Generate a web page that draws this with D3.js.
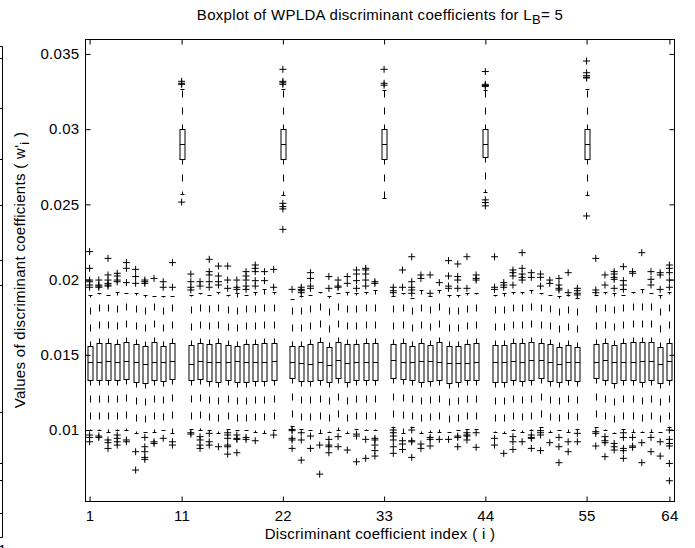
<!DOCTYPE html>
<html><head><meta charset="utf-8">
<script src="https://cdn.jsdelivr.net/npm/d3@7"></script>
<style>
body{margin:0;background:#fff}
svg{display:block}
text{font-family:"Liberation Sans",Arial,Helvetica,sans-serif;fill:#000;font-size:15px;letter-spacing:0.3px}
</style>
</head><body><svg id="chart" width="695" height="548"></svg>
<script>
const categories = [1,2,3,4,5,6,7,8,9,10,11,12,13,14,15,16,17,18,19,20,21,22,23,24,25,26,27,28,29,30,31,32,
  33,34,35,36,37,38,39,40,41,42,43,44,45,46,47,48,49,50,51,52,53,54,55,56,57,58,59,60,61,62,63,64];

const q3 = [0.01561,0.01576,0.01581,0.01572,0.01583,0.01574,0.01556,0.01587,0.01561,0.01576,
  0.0300,0.01565,0.01581,0.01572,0.01576,0.01565,0.01561,0.01572,0.01572,0.01581,
  0.01576,0.0300,0.01561,0.01561,0.01572,0.01587,0.01554,0.01583,0.01572,0.01572,
  0.01576,0.01576,0.0300,0.0157,0.01576,0.01561,0.01576,0.01565,0.01583,0.01561,
  0.01561,0.01572,0.01576,0.0300,0.01565,0.01565,0.01576,0.01581,0.01583,0.01576,
  0.01572,0.01554,0.01565,0.01554,0.0300,0.01572,0.01576,0.01565,0.01576,0.01583,
  0.01587,0.01587,0.0155,0.01576];

const median = [0.0145,0.0145,0.01457,0.0145,0.01461,0.0145,0.01441,0.0145,0.0145,0.01457,
  0.0290,0.01441,0.01457,0.0145,0.01454,0.0145,0.01457,0.0145,0.0145,0.0145,
  0.01461,0.0290,0.01454,0.01445,0.01441,0.0145,0.01434,0.01465,0.01448,0.01454,
  0.01454,0.01454,0.0290,0.01465,0.0145,0.01452,0.01459,0.01459,0.0145,0.01443,
  0.01448,0.01445,0.01454,0.0290,0.0145,0.0145,0.01457,0.0145,0.01463,0.01463,
  0.0145,0.01439,0.0145,0.0145,0.0290,0.01454,0.01463,0.0145,0.01454,0.01454,
  0.01461,0.01457,0.01437,0.01457];

const q1 = [0.0133,0.01332,0.01332,0.01332,0.01339,0.01319,0.01315,0.0133,0.01326,0.01341,
  0.0280,0.01332,0.01339,0.01328,0.01321,0.01332,0.01321,0.01321,0.01326,0.01326,
  0.01332,0.0280,0.01344,0.01326,0.01326,0.01332,0.01317,0.01344,0.01319,0.01332,
  0.01332,0.01332,0.0280,0.01344,0.01339,0.01332,0.01321,0.01328,0.01332,0.01315,
  0.01317,0.01332,0.01332,0.02815,0.01321,0.01321,0.01332,0.01328,0.01332,0.01344,
  0.01328,0.01321,0.01332,0.01328,0.0280,0.01344,0.01332,0.01315,0.01332,0.01332,
  0.01321,0.01332,0.0131,0.01332];

const whiskerHigh = [0.0190,0.0191,0.0190,0.0192,0.0191,0.0191,0.0190,0.0189,0.0189,0.0189,
  0.0327,0.0190,0.0191,0.0190,0.0192,0.0190,0.0191,0.0190,0.0192,0.0194,
  0.0192,0.0327,0.0187,0.0189,0.0190,0.0192,0.0189,0.0191,0.0192,0.0191,
  0.0192,0.0193,0.0326,0.0189,0.0191,0.0188,0.0193,0.0189,0.0193,0.0190,
  0.0190,0.0191,0.0191,0.0326,0.0190,0.0191,0.0192,0.0192,0.0193,0.0191,
  0.0190,0.0189,0.0190,0.0188,0.0327,0.0190,0.0192,0.0191,0.0190,0.0192,
  0.0194,0.0191,0.0190,0.0192];

const whiskerLow = [0.0100,0.0100,0.0099,0.0100,0.0100,0.0098,0.0099,0.0099,0.0100,0.0098,
  0.0257,0.0101,0.0100,0.0100,0.0098,0.0101,0.0100,0.0100,0.0099,0.0098,
  0.0100,0.0256,0.0103,0.0101,0.0100,0.0098,0.0099,0.0100,0.0098,0.0101,
  0.0100,0.0100,0.0254,0.0102,0.0098,0.0102,0.0098,0.0099,0.0099,0.0099,
  0.0100,0.0101,0.0101,0.0258,0.0099,0.0098,0.0100,0.0099,0.0100,0.0102,
  0.0099,0.0100,0.0099,0.0101,0.0256,0.0102,0.0100,0.0098,0.0101,0.0099,
  0.0099,0.0099,0.0099,0.0102];

const outliers = [
  [0.02186,0.02075,0.01997,0.01986,0.01964,0.01949, 0.00967,0.00951,0.00922],
  [0.01997,0.01964,0.01957,0.01949, 0.0096,0.00951],
  [0.02141,0.02031,0.01997,0.01975,0.01964,0.01957, 0.00934,0.00916,0.00878],
  [0.02042,0.02024,0.01997,0.01986, 0.00967,0.00945,0.00922,0.009],
  [0.02113,0.02075,0.0198, 0.00934,0.00922],
  [0.02068,0.0202,0.01975, 0.00856,0.00734],
  [0.01997,0.01986,0.01975, 0.00951,0.00889,0.00856,0.00818,0.00805],
  [0.02008, 0.00922,0.00911],
  [0.01986,0.01949, 0.00945],
  [0.02113,0.01949, 0.00922,0.009],
  [0.03318,0.03305,0.03298, 0.02515],
  [0.02037,0.01986,0.01949,0.01931, 0.00982,0.00973],
  [0.01986,0.01957, 0.00956,0.00934,0.009,0.00878],
  [0.02135,0.02053,0.02031,0.01986,0.01949, 0.00978,0.00922,0.009],
  [0.0209,0.02024,0.01986,0.01964, 0.00889],
  [0.0209,0.01997,0.01942, 0.00982,0.00967,0.00945,0.009,0.00889,0.0084],
  [0.01997,0.01949,0.01935, 0.00967,0.00945,0.00938,0.00849],
  [0.02053,0.02024,0.01997,0.01957,0.01935, 0.00951,0.00938],
  [0.02097,0.02075,0.02053,0.01993,0.01957, 0.00929],
  [0.02053,0.01993],
  [0.02068,0.01949, 0.00967],
  [0.03398,0.03318,0.03308,0.03298, 0.02507,0.02485,0.0247,0.02334],
  [0.01935, 0.01004,0.00996,0.00945,0.00934,0.00878],
  [0.01949,0.01935,0.01926,0.01913, 0.00982,0.00934,0.008],
  [0.02046,0.02008,0.01957,0.01942, 0.0096,0.00878],
  [0.009,0.00707],
  [0.0202,0.01942, 0.00938,0.009,0.00889,0.00849],
  [0.01997,0.01957,0.01949, 0.00956,0.00889],
  [0.0202,0.01975, 0.00867],
  [0.02064,0.02037,0.01993,0.01942, 0.00973,0.0096,0.00789],
  [0.02075,0.02064,0.02037,0.01997,0.01957, 0.00938,0.00812],
  [0.01986,0.01975, 0.00945,0.00934,0.009,0.00863,0.00827],
  [0.03398,0.03305,0.03292],
  [0.01949,0.01926,0.01913, 0.01,0.00982,0.0096,0.00934,0.00889,0.00845],
  [0.02064,0.01949, 0.00929,0.00907,0.00871],
  [0.02152,0.01986,0.01949,0.01931,0.01909, 0.01,0.00929,0.00922,0.00818],
  [0.02031,0.02008, 0.00907,0.00878],
  [0.02031,0.01909, 0.00951,0.00938,0.00894],
  [0.0198, 0.00938],
  [0.02126,0.02024,0.01957,0.01942, 0.00938],
  [0.02104,0.0202,0.01997,0.01942, 0.0096,0.00951,0.00889],
  [0.02152,0.01942, 0.00982,0.00967,0.0096,0.00934],
  [0.02031,0.02008,0.01997, 0.00982,0.00885],
  [0.03383,0.03298,0.0329,0.03284, 0.0253,0.02512,0.0249],
  [0.02152,0.01949,0.01935, 0.00945,0.009],
  [0.0198,0.01964,0.01949, 0.00845],
  [0.02064,0.02046,0.02024,0.01964, 0.00956,0.00922,0.00871],
  [0.02179,0.02075,0.02037,0.02015,0.01997, 0.00922],
  [0.02046,0.02015, 0.00967,0.00951,0.00945,0.00878],
  [0.02037,0.02015,0.01957, 0.00996,0.00982,0.00967,0.00863],
  [0.01997,0.01975, 0.00916],
  [0.02008,0.01964,0.01942,0.01931, 0.00951,0.00889,0.00783],
  [0.02046,0.01913, 0.00922,0.00856],
  [0.01942,0.01926,0.01909,0.01898, 0.00978,0.00922],
  [0.03453,0.03375,0.03355,0.03345,0.0334, 0.02423],
  [0.02141,0.01931,0.01913, 0.00989,0.00978,0.00894],
  [0.02031,0.01964, 0.00956,0.00929,0.00916,0.00823],
  [0.02053,0.02037,0.02015,0.02002,0.01942, 0.00911,0.00889,0.00867],
  [0.02086,0.01993,0.01964,0.01935, 0.00982,0.00951,0.00878,0.00863,0.00812],
  [0.02053,0.02042, 0.00951,0.00894,0.00885],
  [0.02179, 0.00916,0.00783],
  [0.02053,0.02002,0.01964, 0.00951,0.00856],
  [0.02046,0.02031,0.01935, 0.00922,0.00827],
  [0.02097,0.02075,0.02046,0.01997,0.01949, 0.01,0.00938,0.00911,0.00894,0.00778,0.00663]
];

const xTickValues = [1, 11, 22, 33, 44, 55, 64];
const yTickValues = [0.01, 0.015, 0.02, 0.025, 0.03, 0.035];
const yTickLabels = ["0.01", "0.015", "0.02", "0.025", "0.03", "0.035"];
const titleText = ["Boxplot of WPLDA discriminant coefficients for L", "B", "= 5"];
const xLabelText = "Discriminant coefficient index ( i )";
const yLabelText = ["Values of discriminant coefficients ( w", "'", "i", " )"];

const svg = d3.select("#chart");
const L = 85.5, R = 674.5, T = 39.5, B = 501.5;
const x = d3.scaleLinear().domain([0.5, 64.5]).range([85, 674]);
const y = d3.scaleLinear().domain([0.00525, 0.03596]).range([B, T]);
const px = v => Math.round(x(v)) + 0.5;
const py = v => Math.round(y(v)) + 0.5;

// left artifact (edge of a neighbouring figure)
const art = svg.append("g").attr("stroke", "#000").attr("stroke-width", 1).attr("fill", "none");
art.append("path").attr("d", "M0,46.5H2.5V537.5H0");
[58, 108, 159, 205, 260, 285, 412, 463, 480, 513].forEach(t => {
  art.append("line").attr("x1", 0).attr("x2", 2.5).attr("y1", t + 0.5).attr("y2", t + 0.5);
});
svg.append("text").attr("x", -2).attr("y", 555).text("1");

const g = svg.append("g");

// boxes
const boxW = 5, capW = 4;
categories.forEach((c, i) => {
  const cx = px(c);
  const gb = g.append("g").attr("stroke", "#000").attr("stroke-width", 1).attr("fill", "none");
  gb.append("line").attr("x1", cx).attr("x2", cx).attr("y1", py(q3[i])).attr("y2", py(whiskerHigh[i]))
    .attr("stroke-dasharray", "7,10").attr("stroke-dashoffset", 2);
  gb.append("line").attr("x1", cx).attr("x2", cx).attr("y1", py(q1[i])).attr("y2", py(whiskerLow[i]))
    .attr("stroke-dasharray", "7,10").attr("stroke-dashoffset", 2);
  gb.append("line").attr("x1", cx - capW / 2).attr("x2", cx + capW / 2).attr("y1", py(whiskerHigh[i])).attr("y2", py(whiskerHigh[i]));
  gb.append("line").attr("x1", cx - capW / 2).attr("x2", cx + capW / 2).attr("y1", py(whiskerLow[i])).attr("y2", py(whiskerLow[i]));
  gb.append("rect").attr("x", cx - 2.5).attr("width", boxW)
    .attr("y", py(q3[i])).attr("height", py(q1[i]) - py(q3[i]));
  gb.append("line").attr("x1", cx - 2.5).attr("x2", cx + 2.5).attr("y1", py(median[i])).attr("y2", py(median[i]));
  outliers[i].forEach(v => {
    gb.append("path").attr("transform", `translate(${x(c)},${y(v)})`).attr("d", "M-3.5,0H3.5M0,-3.5V3.5");
  });
});

// frame
svg.append("rect").attr("x", L).attr("y", T).attr("width", R - L).attr("height", B - T)
  .attr("fill", "none").attr("stroke", "#000").attr("stroke-width", 1);

// axes
const yAxis = d3.axisLeft(y).tickValues(yTickValues).tickFormat((d, i) => yTickLabels[i])
  .tickSizeInner(-5).tickSizeOuter(0).tickPadding(6);
const gy = svg.append("g").attr("transform", `translate(${L},0)`).call(yAxis);
gy.select(".domain").remove();
gy.selectAll("text").attr("font-size", null).attr("font-family", null);

const yAxisR = d3.axisRight(y).tickValues(yTickValues).tickFormat("").tickSizeInner(-5).tickSizeOuter(0);
const gyr = svg.append("g").attr("transform", `translate(${R},0)`).call(yAxisR);
gyr.select(".domain").remove();

const xAxis = d3.axisBottom(x).tickValues(xTickValues).tickFormat(d3.format("d"))
  .tickSizeInner(-5).tickSizeOuter(0).tickPadding(9);
const gx = svg.append("g").attr("transform", `translate(0,${B})`).call(xAxis);
gx.select(".domain").remove();
gx.selectAll("text").attr("font-size", null).attr("font-family", null);

const xAxisT = d3.axisTop(x).tickValues(xTickValues).tickFormat("").tickSizeInner(-5).tickSizeOuter(0);
const gxt = svg.append("g").attr("transform", `translate(0,${T})`).call(xAxisT);
gxt.select(".domain").remove();

svg.selectAll(".tick line").attr("stroke", "#000");
svg.selectAll(".tick text").attr("fill", "#000");

// title
const title = svg.append("text").attr("x", 380).attr("y", 20).attr("text-anchor", "middle");
title.append("tspan").text(titleText[0]);
title.append("tspan").attr("dy", 4).attr("font-size", 13).text(titleText[1]);
title.append("tspan").attr("dy", -4).text(titleText[2]);

// x label
svg.append("text").attr("x", 380).attr("y", 538.5).attr("text-anchor", "middle").text(xLabelText);

// y label
const yl = svg.append("text").attr("transform", "translate(25,270) rotate(-90)").attr("text-anchor", "middle");
yl.append("tspan").text(yLabelText[0]);
yl.append("tspan").text(yLabelText[1]);
yl.append("tspan").attr("dy", 4).attr("font-size", 13).text(yLabelText[2]);
yl.append("tspan").attr("dy", -4).text(yLabelText[3]);
</script>
</body></html>
